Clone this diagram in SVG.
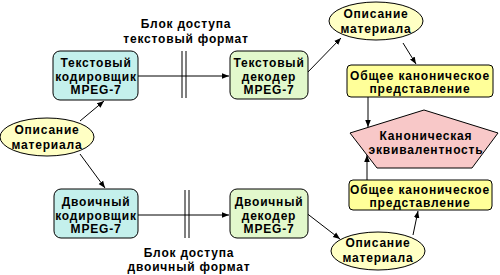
<svg xmlns="http://www.w3.org/2000/svg" width="500" height="275" viewBox="0 0 500 275">
<defs>
<marker id="ah" viewBox="0 0 10 10" refX="10" refY="5" markerWidth="7" markerHeight="7" markerUnits="userSpaceOnUse" orient="auto">
<path d="M0,1 L10,5 L0,9 Z" fill="#000"/>
</marker>
<style>
text{font-family:"Liberation Sans",Arial,sans-serif;font-weight:bold;font-size:12px;letter-spacing:0.8px;fill:#000;text-anchor:middle}
.enc{fill:#c4f0ec;stroke:#000;stroke-width:1}
.dec{fill:#e2f8cc;stroke:#000;stroke-width:1}
.can{fill:#ffff99;stroke:#000;stroke-width:1}
.ell{fill:#ffffc4;stroke:#000;stroke-width:1}
.pent{fill:#f8c8c8;stroke:#000;stroke-width:1}
.ln{stroke:#000;stroke-width:1;fill:none}
.ar{stroke:#000;stroke-width:1;fill:none;marker-end:url(#ah)}
</style>
</defs>
<rect width="500" height="275" fill="#fff"/>

<g id="connectors">
<line class="ar" x1="80" y1="121" x2="104" y2="101"/>
<line class="ar" x1="80" y1="154" x2="105" y2="188"/>
<line class="ar" x1="138" y1="76" x2="229" y2="76"/>
<line class="ln" x1="182" y1="51" x2="182" y2="98"/>
<line class="ln" x1="186" y1="51" x2="186" y2="98"/>
<line class="ar" x1="138" y1="215" x2="229" y2="215"/>
<line class="ln" x1="185" y1="190" x2="185" y2="238"/>
<line class="ln" x1="189" y1="190" x2="189" y2="238"/>
<line class="ar" x1="307" y1="73" x2="341" y2="38"/>
<line class="ar" x1="403" y1="43" x2="416" y2="64"/>
<line class="ar" x1="368" y1="97" x2="368" y2="127"/>
<line class="ar" x1="367" y1="180" x2="367" y2="155"/>
<line class="ar" x1="305" y1="212" x2="340" y2="239"/>
<line class="ar" x1="413" y1="235" x2="418" y2="211"/>
</g>

<g id="label-text">
<text x="186" y="28">Блок доступа</text>
<text x="186" y="43">текстовый формат</text>
</g>
<g id="label-bin">
<text x="189" y="257">Блок доступа</text>
<text x="189" y="271">двоичный формат</text>
</g>

<g id="desc-left">
<ellipse class="ell" cx="47" cy="137" rx="47" ry="19"/>
<text x="47" y="134">Описание</text>
<text x="47" y="149">материала</text>
</g>

<g id="text-encoder">
<rect class="enc" x="53" y="51" width="85" height="49" rx="7"/>
<text x="96" y="67">Текстовый</text>
<text x="96" y="80.5">кодировщик</text>
<text x="96" y="94">MPEG-7</text>
</g>

<g id="bin-encoder">
<rect class="enc" x="54" y="189" width="84" height="49" rx="7"/>
<text x="96" y="206">Двоичный</text>
<text x="96" y="219.5">кодировщик</text>
<text x="96" y="233">MPEG-7</text>
</g>

<g id="text-decoder">
<rect class="dec" x="230" y="51" width="78" height="48" rx="7"/>
<text x="269" y="67">Текстовый</text>
<text x="269" y="80.5">декодер</text>
<text x="269" y="94">MPEG-7</text>
</g>

<g id="bin-decoder">
<rect class="dec" x="230" y="189" width="78" height="49" rx="7"/>
<text x="269" y="206">Двоичный</text>
<text x="269" y="219.5">декодер</text>
<text x="269" y="233">MPEG-7</text>
</g>

<g id="desc-top">
<ellipse class="ell" cx="376" cy="21" rx="47" ry="19"/>
<text x="376" y="18">Описание</text>
<text x="376" y="33">материала</text>
</g>

<g id="desc-bottom">
<ellipse class="ell" cx="378" cy="251" rx="47" ry="19"/>
<text x="378" y="247">Описание</text>
<text x="378" y="262">материала</text>
</g>

<g id="canon-top">
<rect class="can" x="347" y="65" width="146" height="32" rx="4"/>
<text x="420" y="79.5">Общее каноническое</text>
<text x="420" y="93">представление</text>
</g>

<g id="canon-bottom">
<rect class="can" x="349" y="180" width="143" height="30" rx="4"/>
<text x="420" y="193.5">Общее каноническое</text>
<text x="420" y="207">представление</text>
</g>

<g id="equivalence">
<polygon class="pent" points="424,110 498,133 472,168 377,168 350,133"/>
<text x="426" y="140">Каноническая</text>
<text x="426" y="154">эквивалентность</text>
</g>
</svg>
